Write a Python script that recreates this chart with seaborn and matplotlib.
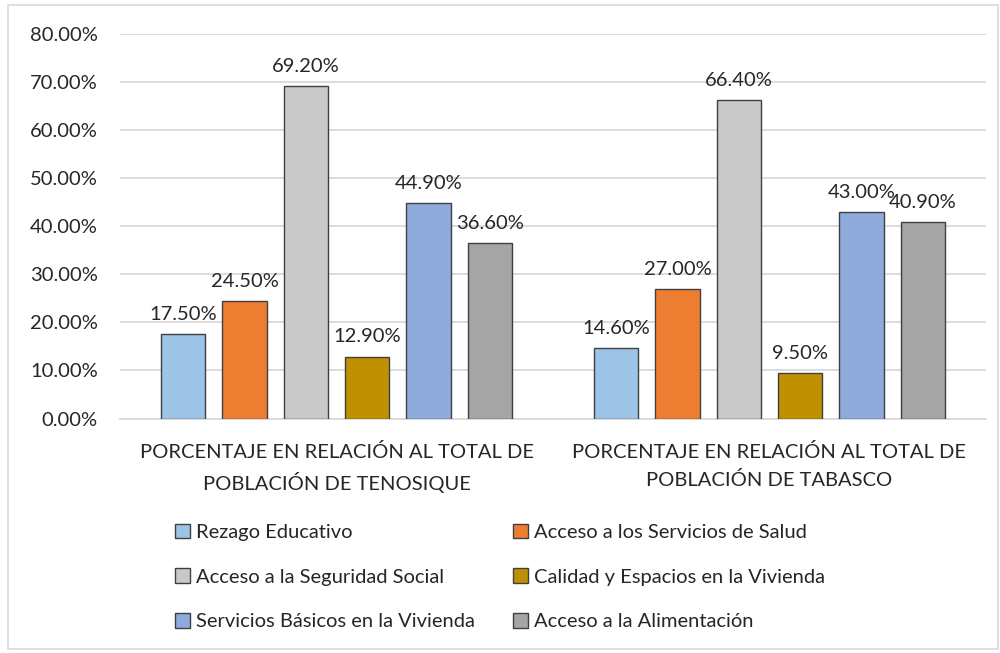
import matplotlib.pyplot as plt
import matplotlib.patches as mpatches
from matplotlib.ticker import PercentFormatter, MultipleLocator
import pandas as pd
import seaborn as sns

# datos
grupos = ['PORCENTAJE EN RELACIÓN AL TOTAL DE\nPOBLACIÓN DE TENOSIQUE',
          'PORCENTAJE EN RELACIÓN AL TOTAL DE\nPOBLACIÓN DE TABASCO']
carencias = ['Rezago Educativo', 'Acceso a los Servicios de Salud',
             'Acceso a la Seguridad Social', 'Calidad y Espacios en la Vivienda',
             'Servicios Básicos en la Vivienda', 'Acceso a la Alimentación']
tenosique = [0.175, 0.245, 0.692, 0.129, 0.449, 0.366]
tabasco = [0.146, 0.270, 0.664, 0.095, 0.430, 0.409]
colores = ['#9DC3E6', '#ED7D31', '#C9C9C9', '#BF9000', '#8FAADC', '#A5A5A5']

df = pd.DataFrame({
    'grupo': [grupos[0]] * 6 + [grupos[1]] * 6,
    'carencia': carencias * 2,
    'valor': tenosique + tabasco,
})

sns.set_style('white')
plt.rcParams['font.family'] = ['Lato', 'DejaVu Sans']
fs = 14.5

fig = plt.figure(figsize=(10, 6.53), dpi=100)
ax = fig.add_axes([0.12, 1 - 418.5 / 653, 0.866, (418.5 - 34.3) / 653])

sns.barplot(data=df, x='grupo', y='valor', hue='carencia', hue_order=carencias,
            palette=colores, saturation=1, width=0.85, gap=0.28, edgecolor='#404040',
            linewidth=1, legend=False, ax=ax, zorder=3)

for cont in ax.containers:
    ax.bar_label(cont, fmt=lambda v: f'{v * 100:.2f}%', padding=8, fontsize=fs, color='#262626')

ax.set_ylim(0, 0.8)
ax.yaxis.set_major_locator(MultipleLocator(0.1))
ax.yaxis.set_major_formatter(PercentFormatter(1, decimals=2))
ax.grid(axis='y', color='#D9D9D9', linewidth=1.3, zorder=0)
ax.set_axisbelow(True)
ax.set_xlabel('')
ax.set_ylabel('')
for s in ['left', 'right', 'top']:
    ax.spines[s].set_visible(False)
ax.spines['bottom'].set_color('#D9D9D9')
ax.spines['bottom'].set_linewidth(1.3)
ax.tick_params(axis='y', length=0, pad=16, labelsize=fs, labelcolor='#262626')
ax.tick_params(axis='x', length=0, pad=18, labelsize=fs, labelcolor='#262626')
for t in ax.get_xticklabels():
    t.set_linespacing(1.6)

# leyenda en 3 filas x 2 columnas
handles = [mpatches.Patch(facecolor=c, edgecolor='#404040', linewidth=1) for c in colores]
orden = [0, 2, 4, 1, 3, 5]
fig.legend([handles[i] for i in orden], [carencias[i] for i in orden],
           loc='center left', bbox_to_anchor=(0.165, 1 - 577 / 653), ncol=2,
           frameon=False, fontsize=fs, handlelength=0.75, handleheight=0.75,
           handletextpad=0.3, columnspacing=1.9, labelspacing=1.35,
           borderpad=0, labelcolor='#262626')

# borde del gráfico
fig.patches.append(mpatches.Rectangle((0.008, 0.006), 0.99, 0.986, transform=fig.transFigure,
                                      fill=False, edgecolor='#D9D9D9', linewidth=1.2))

plt.savefig('out.png', dpi=100)
